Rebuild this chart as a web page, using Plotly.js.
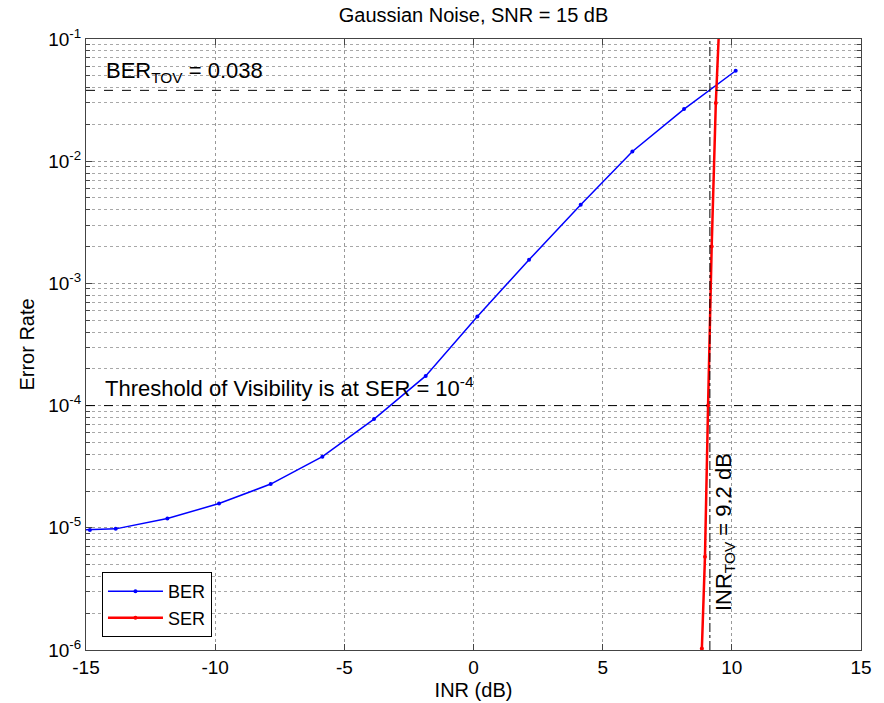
<!DOCTYPE html>
<html>
<head>
<meta charset="utf-8">
<script src="https://cdn.plot.ly/plotly-3.0.1.min.js"></script>
<style>html,body{margin:0;padding:0;background:#fff;}#chart{width:884px;height:703px;}</style>
</head>
<body>
<div id="chart"></div>
<script>
// ---- data ----
const berINR = [-15.85, -14.85, -13.85, -11.85, -9.85, -7.85, -5.85, -3.85, -1.85, 0.15, 2.15, 4.15, 6.15, 8.15, 10.15];
const berVal = [9.5e-6, 9.6e-6, 9.8e-6, 1.19e-5, 1.58e-5, 2.28e-5, 3.82e-5, 7.76e-5, 1.75e-4, 5.35e-4, 1.56e-3, 4.4e-3, 1.2e-2, 2.67e-2, 5.5e-2];
const serINR = [8.84, 8.96, 9.08, 9.22, 9.38, 9.55];
const serVal = [1.03e-6, 5.8e-6, 1.0e-4, 2.0e-3, 3.0e-2, 0.2];
const berTOV = [0.038];
const serTOV = [1e-4];
const inrTOV = [9.15];
const yTickVals = [1e-6, 1e-5, 1e-4, 1e-3, 1e-2, 1e-1];
const yTickText = ['10<sup>-6</sup>', '10<sup>-5</sup>', '10<sup>-4</sup>', '10<sup>-3</sup>', '10<sup>-2</sup>', '10<sup>-1</sup>'];
const xTickVals = [-15, -10, -5, 0, 5, 10, 15];
const xTickText = ['-15', '-10', '-5', '0', '5', '10', '15'];

const minorVals = [];
yTickVals.slice(0, -1).forEach(d => { for (let k = 2; k <= 9; k++) minorVals.push(d * k); });

const font = 'Liberation Sans, Arial, sans-serif';

const traces = [
  {x: berINR, y: berVal, name: 'BER', mode: 'lines+markers',
   line: {color: '#0000ff', width: 1.5}, marker: {color: '#0000ff', size: 4}, cliponaxis: true},
  {x: serINR, y: serVal, name: 'SER', mode: 'lines+markers',
   line: {color: '#ff0000', width: 2.5}, marker: {color: '#ff0000', size: 4}, cliponaxis: true}
];

const shapes = [
  {type: 'line', xref: 'paper', x0: 0, x1: 1, yref: 'y', y0: berTOV[0], y1: berTOV[0],
   line: {color: '#000', width: 1, dash: 'dash'}},
  {type: 'line', xref: 'paper', x0: 0, x1: 1, yref: 'y', y0: serTOV[0], y1: serTOV[0],
   line: {color: '#000', width: 1, dash: 'dash'}},
  {type: 'line', xref: 'x', x0: inrTOV[0], x1: inrTOV[0], yref: 'paper', y0: 0, y1: 1,
   line: {color: '#000', width: 1, dash: 'dashdot'}}
];

const annotations = [
  {x: -14.3, y: Math.log10(0.054), xref: 'x', yref: 'y', xanchor: 'left', yanchor: 'middle',
   text: 'BER<sub>TOV</sub> = 0.038', showarrow: false, font: {family: font, size: 22, color: '#000'}},
  {x: -14.35, y: Math.log10(1.42e-4), xref: 'x', yref: 'y', xanchor: 'left', yanchor: 'middle',
   text: 'Threshold of Visibility is at SER = 10<sup>-4</sup>', showarrow: false, font: {family: font, size: 22, color: '#000'}},
  {x: 9.73, y: Math.log10(9.2e-6), xref: 'x', yref: 'y', xanchor: 'center', yanchor: 'middle', textangle: -90,
   text: 'INR<sub>TOV</sub> = 9.2 dB', showarrow: false, font: {family: font, size: 22, color: '#000'}}
];

const layout = {
  width: 884, height: 703,
  margin: {l: 86, r: 23, t: 39, b: 53},
  paper_bgcolor: '#fff', plot_bgcolor: '#fff',
  font: {family: font, color: '#000'},
  title: {text: 'Gaussian Noise, SNR = 15 dB', font: {family: font, size: 20, color: '#000'},
          x: 0.5, xref: 'paper', y: 1 - 15 / 703, yref: 'container', yanchor: 'middle'},
  xaxis: {
    range: [-15, 15], tickvals: xTickVals, ticktext: xTickText, ticks: 'inside', ticklen: 6, tickcolor: '#444',
    showline: true, linecolor: '#444', linewidth: 1, mirror: 'allticks',
    showgrid: true, gridcolor: '#999', griddash: 'dot', gridwidth: 1, zeroline: false,
    tickfont: {family: font, size: 19, color: '#000'},
    title: {text: 'INR (dB)', font: {family: font, size: 20, color: '#000'}, standoff: 6}
  },
  yaxis: {
    type: 'log', range: [-6, -1], tickvals: yTickVals, ticktext: yTickText,
    ticks: 'inside', ticklen: 6, tickcolor: '#444',
    showline: true, linecolor: '#444', linewidth: 1, mirror: 'allticks',
    showgrid: true, gridcolor: '#999', griddash: 'dot', gridwidth: 1, zeroline: false,
    tickfont: {family: font, size: 19, color: '#000'},
    minor: {tickvals: minorVals, ticks: 'inside', ticklen: 4, tickcolor: '#444',
            showgrid: true, gridcolor: '#a8a8a8', griddash: 'dot', gridwidth: 1},
    title: {text: 'Error Rate', font: {family: font, size: 20, color: '#000'}, standoff: 8}
  },
  showlegend: true,
  legend: {x: 0.0206, y: 0.021, xanchor: 'left', yanchor: 'bottom', bgcolor: '#fff',
           bordercolor: '#000', borderwidth: 1, font: {family: font, size: 18, color: '#000'},
           tracegroupgap: 0, itemwidth: 55},
  shapes: shapes,
  annotations: annotations
};

Plotly.newPlot('chart', traces, layout, {displayModeBar: false, staticPlot: true});
</script>
</body>
</html>
